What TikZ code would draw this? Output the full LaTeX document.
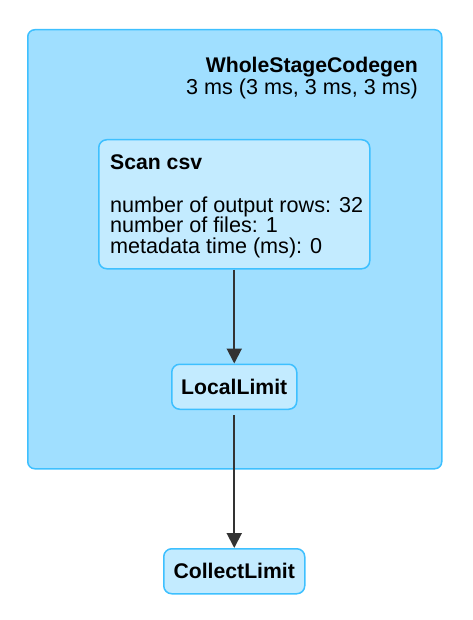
\documentclass[tikz,border=0pt]{standalone}
\usepackage{fontspec}
\setmainfont{Liberation Sans}
\usetikzlibrary{arrows.meta}
\definecolor{clusterfill}{HTML}{A0DFFF}
\definecolor{nodefill}{HTML}{C3EBFF}
\definecolor{edgeblue}{HTML}{3EC0FF}
\definecolor{arrowgray}{HTML}{333333}
\tikzset{
  cluster/.style={draw=edgeblue, fill=clusterfill, line width=1.5pt, rounded corners=7pt, inner sep=0pt},
  opbox/.style={draw=edgeblue, fill=nodefill, line width=1.5pt, rounded corners=8pt, inner sep=0pt},
  txt/.style={inner sep=0pt, font=\fontsize{21.6}{20.5}\selectfont},
  boldtxt/.style={inner sep=0pt, font=\fontsize{21.2}{20.5}\selectfont\bfseries},
  flow/.style={draw=arrowgray, line width=2pt, -{Triangle[length=15pt,width=15pt]}},
}
\begin{document}
\begin{tikzpicture}[x=1pt,y=-1pt]
\useasboundingbox (0,0) rectangle (472,620);
\node[cluster, minimum width=414pt, minimum height=439pt, anchor=north west] (wsc) at (27,29) {};
\node[boldtxt, anchor=base east] (wsctitle) at (418,73) {WholeStageCodegen};
\node[txt, anchor=base east] (wsctime) at (418,95) {3 ms (3 ms, 3 ms, 3 ms)};
\node[opbox, minimum width=271pt, minimum height=129pt, anchor=north west] (scan) at (98,139) {};
\node[boldtxt, anchor=base west] (scantitle) at (110,170) {Scan csv};
\node[txt, anchor=base west] (m1) at (110,212) {number of output rows: 32};
\node[txt, anchor=base west] (m2) at (110,232.5) {number of files: 1};
\node[txt, anchor=base west] (m3) at (110,253) {metadata time (ms): 0};
\node[opbox, boldtxt, minimum width=125pt, minimum height=45pt, anchor=north west] (local) at (171,363.5) {LocalLimit};
\node[opbox, boldtxt, minimum width=141pt, minimum height=45pt, anchor=north west] (collect) at (163,548) {CollectLimit};
\draw[flow] (scan.south) -- (local.north);
\draw[flow, shorten <=5pt] (local.south) -- (collect.north);
\end{tikzpicture}
\end{document}
